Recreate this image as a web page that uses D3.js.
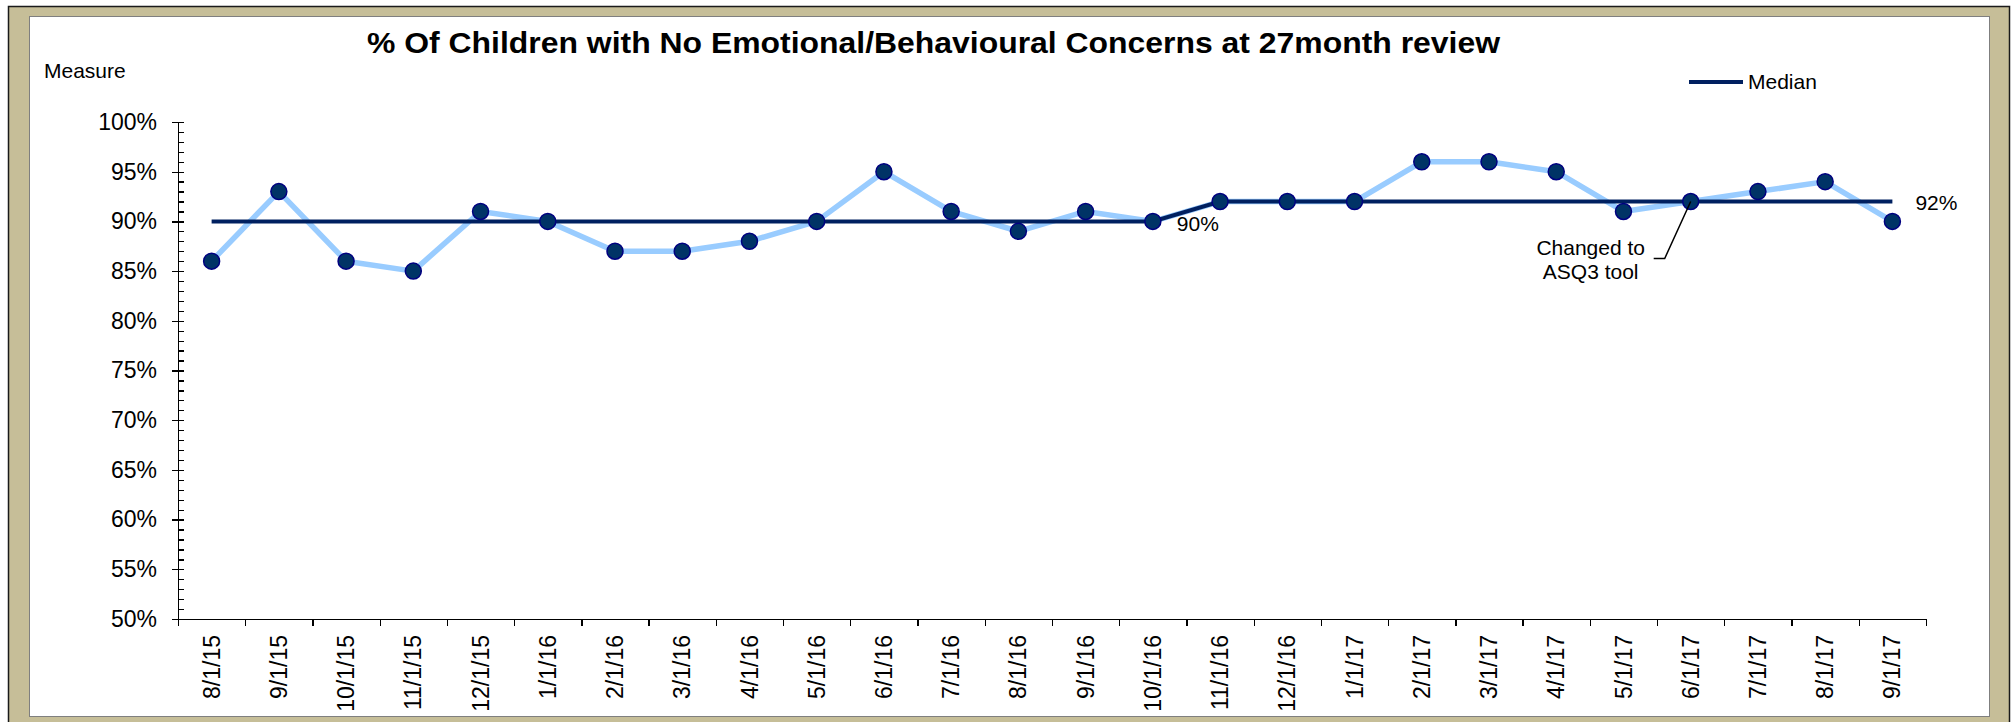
<!DOCTYPE html>
<meta charset="utf-8">
<head>
    <script src="https://d3js.org/d3.v7.min.js"></script>
    <style>
        body { margin: 0; background: #fff; }
        text { font-family: "Liberation Sans", Arial, sans-serif; fill: #000; }
        .axis path, .axis line { stroke: #000; stroke-width: 1.3px; shape-rendering: crispEdges; }
        .axis text { font-size: 23px; }
    </style>
</head>
<body>
<script type="text/javascript">

    // chart data
    var months = ["8/1/15", "9/1/15", "10/1/15", "11/1/15", "12/1/15", "1/1/16", "2/1/16", "3/1/16",
        "4/1/16", "5/1/16", "6/1/16", "7/1/16", "8/1/16", "9/1/16", "10/1/16", "11/1/16", "12/1/16",
        "1/1/17", "2/1/17", "3/1/17", "4/1/17", "5/1/17", "6/1/17", "7/1/17", "8/1/17", "9/1/17"];
    var measure = [0.86, 0.93, 0.86, 0.85, 0.91, 0.90, 0.87, 0.87, 0.88, 0.90, 0.95, 0.91, 0.89,
        0.91, 0.90, 0.92, 0.92, 0.92, 0.96, 0.96, 0.95, 0.91, 0.92, 0.93, 0.94, 0.90];
    var median = [0.90, 0.90, 0.90, 0.90, 0.90, 0.90, 0.90, 0.90, 0.90, 0.90, 0.90, 0.90, 0.90,
        0.90, 0.90, 0.92, 0.92, 0.92, 0.92, 0.92, 0.92, 0.92, 0.92, 0.92, 0.92, 0.92];
    var yTicks = [0.50, 0.55, 0.60, 0.65, 0.70, 0.75, 0.80, 0.85, 0.90, 0.95, 1.00];
    var titleText = "% Of Children with No Emotional/Behavioural Concerns at 27month review";

    var width = 2011;
    var height = 722;
    var plot = {left: 178, right: 1926, top: 122, bottom: 619};

    var svg = d3.select("body")
        .append("svg")
        .attr("width", width)
        .attr("height", height);

    // frame
    svg.append("rect")
        .attr("x", 8.5).attr("y", 6.5)
        .attr("width", 2001).attr("height", 730)
        .attr("fill", "#C6BE98")
        .attr("stroke", "#1a1a1a")
        .attr("stroke-width", 1.5);
    svg.append("rect")
        .attr("x", 29.5).attr("y", 16.5)
        .attr("width", 1960).attr("height", 700)
        .attr("fill", "#fff")
        .attr("stroke", "#7f7f7f")
        .attr("stroke-width", 1);

    // scales
    var x = d3.scaleBand()
        .domain(months)
        .range([plot.left, plot.right])
        .padding(0);
    var xEdge = d3.scaleLinear()
        .domain([0, months.length])
        .range([plot.left, plot.right]);
    var y = d3.scaleLinear()
        .domain([0.5, 1])
        .range([plot.bottom, plot.top]);
    var cx = function (i) { return x(months[i]) + x.bandwidth() / 2; };

    // y axis: minor ticks inside, major ticks crossing
    svg.append("g")
        .attr("class", "axis")
        .attr("transform", "translate(" + plot.left + ",0)")
        .call(d3.axisRight(y).tickValues(d3.range(50, 101).map(function (v) { return v / 100; }))
            .tickSize(6).tickSizeOuter(0).tickFormat(""));
    svg.append("g")
        .attr("class", "axis")
        .attr("transform", "translate(" + plot.left + ",0)")
        .call(d3.axisLeft(y).tickValues(yTicks).tickSize(6).tickSizeOuter(0).tickPadding(15)
            .tickFormat(d3.format(".0%")))
        .select(".domain").remove();

    // x axis
    svg.append("g")
        .attr("class", "axis")
        .attr("transform", "translate(0," + plot.bottom + ")")
        .call(d3.axisBottom(xEdge).tickValues(d3.range(0, months.length + 1)).tickSize(7)
            .tickSizeOuter(0).tickFormat(""));
    svg.append("g")
        .attr("class", "axis")
        .attr("transform", "translate(0," + plot.bottom + ")")
        .call(d3.axisBottom(x).tickSize(0))
        .call(function (g) { g.select(".domain").remove(); })
        .selectAll("text")
        .attr("transform", "rotate(-90)")
        .attr("x", -16)
        .attr("y", 0)
        .attr("dy", "0.35em")
        .style("text-anchor", "end");

    // lines
    var line = d3.line()
        .x(function (d, i) { return cx(i); })
        .y(function (d) { return y(d); });

    svg.append("path")
        .datum(measure)
        .attr("fill", "none")
        .attr("stroke", "#99CCFF")
        .attr("stroke-width", 5.5)
        .attr("stroke-linejoin", "round")
        .attr("d", line);

    svg.append("path")
        .datum(median)
        .attr("fill", "none")
        .attr("stroke", "#002060")
        .attr("stroke-width", 4)
        .attr("d", line);

    svg.selectAll(".dot")
        .data(measure)
        .enter()
        .append("circle")
        .attr("class", "dot")
        .attr("cx", function (d, i) { return cx(i); })
        .attr("cy", function (d) { return y(d); })
        .attr("r", 8)
        .attr("fill", "#003366")
        .attr("stroke", "#000080")
        .attr("stroke-width", 1.5);

    // median labels
    var last = median.length - 1;
    svg.append("text")
        .attr("x", cx(14) + 24)
        .attr("y", y(median[14]) + 10)
        .attr("font-size", "21px")
        .text(d3.format(".0%")(median[14]));
    svg.append("text")
        .attr("x", cx(last) + 23)
        .attr("y", y(median[last]) + 8)
        .attr("font-size", "21px")
        .text(d3.format(".0%")(median[last]));

    // annotation
    var ax = cx(22), ay = y(measure[22]);
    svg.append("path")
        .attr("d", "M" + (ax - 37) + "," + (ay + 57) + "H" + (ax - 26) + "L" + ax + "," + ay)
        .attr("fill", "none")
        .attr("stroke", "#000")
        .attr("stroke-width", 1.5);
    svg.append("text")
        .attr("x", ax - 100)
        .attr("y", ay + 53)
        .attr("font-size", "21px")
        .attr("text-anchor", "middle")
        .text("Changed to");
    svg.append("text")
        .attr("x", ax - 100)
        .attr("y", ay + 77)
        .attr("font-size", "21px")
        .attr("text-anchor", "middle")
        .text("ASQ3 tool");

    // title, axis title, legend
    svg.append("text")
        .attr("x", 367)
        .attr("y", 53)
        .attr("font-size", "29px")
        .attr("font-weight", "bold")
        .attr("textLength", 1133)
        .attr("lengthAdjust", "spacingAndGlyphs")
        .text(titleText);

    svg.append("text")
        .attr("x", 44)
        .attr("y", 78)
        .attr("font-size", "21px")
        .text("Measure");

    svg.append("line")
        .attr("x1", 1689).attr("x2", 1743)
        .attr("y1", 82).attr("y2", 82)
        .attr("stroke", "#002060")
        .attr("stroke-width", 4);
    svg.append("text")
        .attr("x", 1748)
        .attr("y", 89)
        .attr("font-size", "21px")
        .text("Median");

</script>
</body>
</html>
